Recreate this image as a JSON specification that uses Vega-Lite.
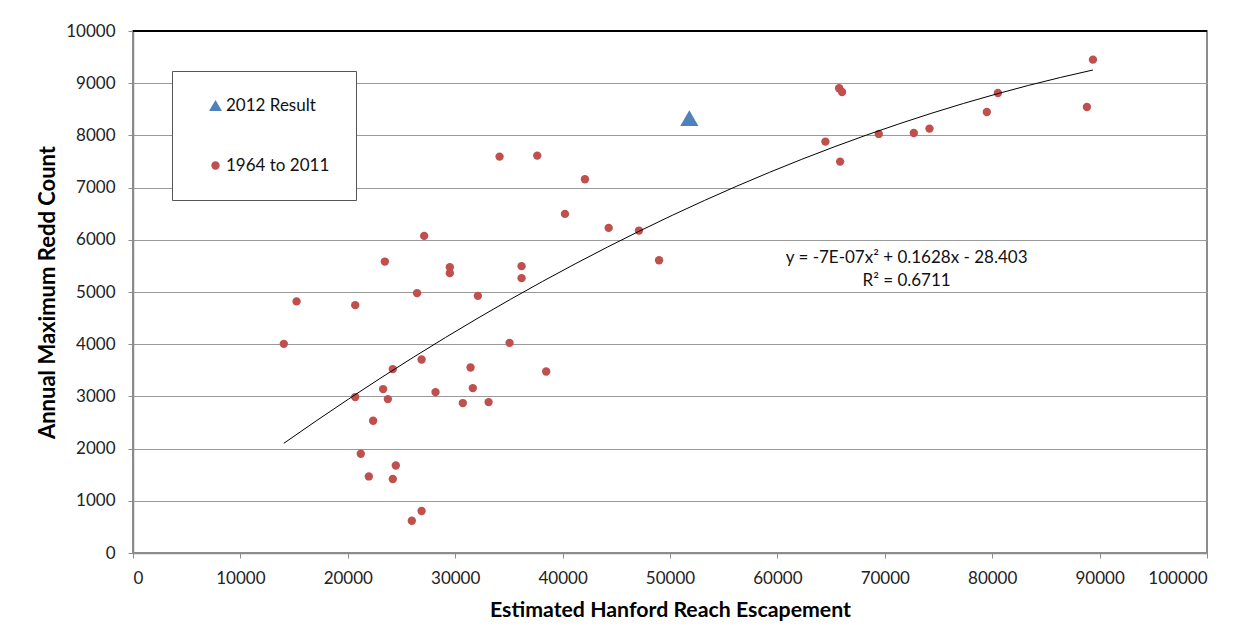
{
  "$schema": "https://vega.github.io/schema/vega-lite/v6.json",
  "width": 1074,
  "height": 522,
  "autosize": "none",
  "padding": {"left": 133, "top": 31, "right": 43, "bottom": 83},
  "background": "white",
  "config": {
    "font": "Lato",
    "view": {"stroke": "#8c8c8c", "strokeWidth": 2},
    "axis": {
      "labelFont": "Lato",
      "labelFontSize": 17,
      "labelColor": "#222222",
      "titleFont": "Lato",
      "titleFontSize": 21,
      "titleFontWeight": "bold",
      "titleColor": "#000000",
      "domainColor": "#8c8c8c",
      "domainWidth": 1.5,
      "tickColor": "#8c8c8c",
      "tickSize": 5,
      "gridColor": "#9a9a9a",
      "gridWidth": 1.2
    },
    "legend": {
      "orient": "none",
      "legendX": 39,
      "legendY": 40,
      "strokeColor": "#555555",
      "fillColor": "white",
      "padding": 26,
      "symbolOffset": 9,
      "rowPadding": 42,
      "labelFont": "Lato",
      "labelFontSize": 17,
      "labelColor": "#111111",
      "labelOffset": 2,
      "symbolStrokeWidth": 0
    }
  },
  "data": {
    "values": [
      {"x": 51800, "y": 8330, "series": "2012 Result"},
      {"x": 14040, "y": 4007, "series": "1964 to 2011"},
      {"x": 15230, "y": 4820, "series": "1964 to 2011"},
      {"x": 20690, "y": 4748, "series": "1964 to 2011"},
      {"x": 20690, "y": 2987, "series": "1964 to 2011"},
      {"x": 21210, "y": 1901, "series": "1964 to 2011"},
      {"x": 21960, "y": 1467, "series": "1964 to 2011"},
      {"x": 22360, "y": 2533, "series": "1964 to 2011"},
      {"x": 23290, "y": 3140, "series": "1964 to 2011"},
      {"x": 23730, "y": 2948, "series": "1964 to 2011"},
      {"x": 24190, "y": 3523, "series": "1964 to 2011"},
      {"x": 24190, "y": 1417, "series": "1964 to 2011"},
      {"x": 24470, "y": 1677, "series": "1964 to 2011"},
      {"x": 25960, "y": 618, "series": "1964 to 2011"},
      {"x": 26870, "y": 804, "series": "1964 to 2011"},
      {"x": 26870, "y": 3707, "series": "1964 to 2011"},
      {"x": 28170, "y": 3082, "series": "1964 to 2011"},
      {"x": 30710, "y": 2872, "series": "1964 to 2011"},
      {"x": 31430, "y": 3553, "series": "1964 to 2011"},
      {"x": 31640, "y": 3159, "series": "1964 to 2011"},
      {"x": 33110, "y": 2891, "series": "1964 to 2011"},
      {"x": 35060, "y": 4026, "series": "1964 to 2011"},
      {"x": 38470, "y": 3477, "series": "1964 to 2011"},
      {"x": 23450, "y": 5583, "series": "1964 to 2011"},
      {"x": 26450, "y": 4978, "series": "1964 to 2011"},
      {"x": 27110, "y": 6075, "series": "1964 to 2011"},
      {"x": 29500, "y": 5476, "series": "1964 to 2011"},
      {"x": 29500, "y": 5361, "series": "1964 to 2011"},
      {"x": 32110, "y": 4926, "series": "1964 to 2011"},
      {"x": 36180, "y": 5495, "series": "1964 to 2011"},
      {"x": 36180, "y": 5265, "series": "1964 to 2011"},
      {"x": 34130, "y": 7594, "series": "1964 to 2011"},
      {"x": 37640, "y": 7613, "series": "1964 to 2011"},
      {"x": 42080, "y": 7160, "series": "1964 to 2011"},
      {"x": 40220, "y": 6496, "series": "1964 to 2011"},
      {"x": 44290, "y": 6228, "series": "1964 to 2011"},
      {"x": 47110, "y": 6177, "series": "1964 to 2011"},
      {"x": 48980, "y": 5609, "series": "1964 to 2011"},
      {"x": 64470, "y": 7881, "series": "1964 to 2011"},
      {"x": 65840, "y": 7498, "series": "1964 to 2011"},
      {"x": 65750, "y": 8903, "series": "1964 to 2011"},
      {"x": 66020, "y": 8832, "series": "1964 to 2011"},
      {"x": 69440, "y": 8028, "series": "1964 to 2011"},
      {"x": 72700, "y": 8047, "series": "1964 to 2011"},
      {"x": 74160, "y": 8130, "series": "1964 to 2011"},
      {"x": 79500, "y": 8449, "series": "1964 to 2011"},
      {"x": 80530, "y": 8813, "series": "1964 to 2011"},
      {"x": 88820, "y": 8545, "series": "1964 to 2011"},
      {"x": 89380, "y": 9451, "series": "1964 to 2011"}
    ]
  },
  "layer": [
    {
      "mark": {"type": "rule", "color": "#000000", "strokeWidth": 1.5},
      "encoding": {"y": {"datum": 10000, "type": "quantitative"}}
    },
    {
      "mark": {"type": "point", "filled": true, "opacity": 1, "strokeWidth": 0},
      "encoding": {
        "x": {
          "field": "x", "type": "quantitative",
          "scale": {"domain": [0, 100000], "nice": false},
          "axis": {
            "title": "Estimated Hanford Reach Escapement",
            "titleFontSize": 21.3,
            "values": [0, 10000, 20000, 30000, 40000, 50000, 60000, 70000, 80000, 90000, 100000],
            "format": "d",
            "grid": false,
            "labelPadding": 12,
            "titlePadding": 13
          }
        },
        "y": {
          "field": "y", "type": "quantitative",
          "scale": {"domain": [0, 10000], "nice": false},
          "axis": {
            "title": "Annual Maximum Redd Count",
            "titleFontSize": 22,
            "values": [0, 1000, 2000, 3000, 4000, 5000, 6000, 7000, 8000, 9000, 10000],
            "format": "d",
            "grid": true,
            "labelPadding": 13,
            "titlePadding": 6
          }
        },
        "color": {
          "field": "series", "type": "nominal",
          "scale": {"domain": ["2012 Result", "1964 to 2011"], "range": ["#4F81BD", "#C0504D"]},
          "legend": {"title": null}
        },
        "shape": {
          "field": "series", "type": "nominal",
          "scale": {"domain": ["2012 Result", "1964 to 2011"], "range": ["triangle-up", "circle"]},
          "legend": {"title": null}
        },
        "size": {
          "field": "series", "type": "nominal",
          "scale": {"domain": ["2012 Result", "1964 to 2011"], "range": [165, 70]},
          "legend": {"title": null}
        }
      }
    },
    {
      "transform": [{"filter": "datum.series === '2012 Result'"}],
      "mark": {"type": "point", "shape": "triangle-up", "filled": true, "opacity": 1, "strokeWidth": 0, "color": "#4F81BD", "size": 330},
      "encoding": {
        "x": {"field": "x", "type": "quantitative"},
        "y": {"field": "y", "type": "quantitative"}
      }
    },
    {
      "transform": [
        {"filter": "datum.series === '1964 to 2011'"},
        {"regression": "y", "on": "x", "method": "poly", "order": 2}
      ],
      "mark": {"type": "line", "color": "#000000", "strokeWidth": 1},
      "encoding": {
        "x": {"field": "x", "type": "quantitative"},
        "y": {"field": "y", "type": "quantitative"}
      }
    },
    {
      "data": {
        "values": [
          {"label": "y = -7E-07x² + 0.1628x - 28.403", "tx": 72030, "ty": 5654},
          {"label": "R² = 0.6711", "tx": 72030, "ty": 5213}
        ]
      },
      "mark": {"type": "text", "font": "Lato", "fontSize": 17, "color": "#111111", "align": "center", "baseline": "middle"},
      "encoding": {
        "x": {"field": "tx", "type": "quantitative"},
        "y": {"field": "ty", "type": "quantitative"},
        "text": {"field": "label"}
      }
    }
  ]
}
